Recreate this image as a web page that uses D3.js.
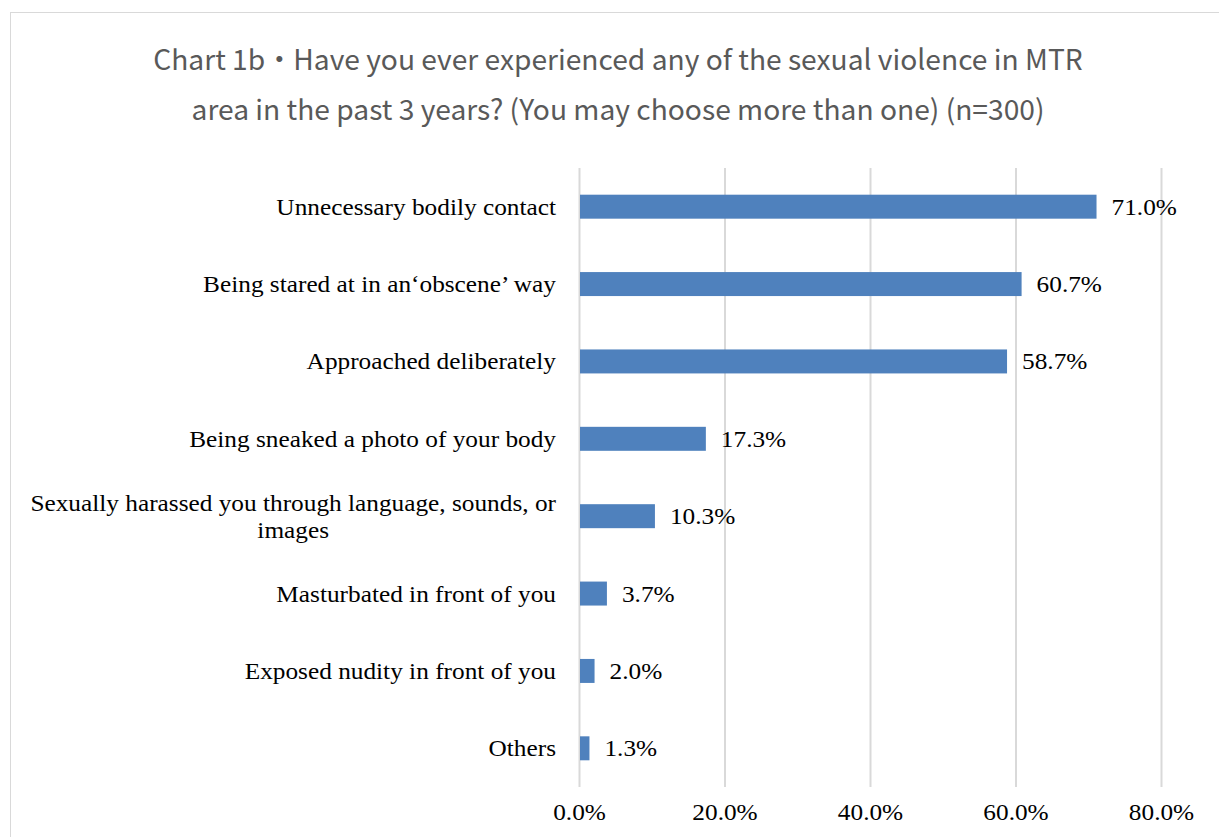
<!DOCTYPE html>
<html>
<head>
<meta charset="utf-8">
<script src="https://cdn.jsdelivr.net/npm/d3@7"></script>
<style>
  html, body { margin: 0; padding: 0; background: #fff; }
  svg { display: block; }
</style>
</head>
<body>
<svg id="chart" width="1219" height="837"></svg>
<script>
// Survey categories, top to bottom
const categories = [
  "Unnecessary bodily contact",
  "Being stared at in an‘obscene’ way",
  "Approached deliberately",
  "Being sneaked a photo of your body",
  "Sexually harassed you through language, sounds, or|images",
  "Masturbated in front of you",
  "Exposed nudity in front of you",
  "Others"
];
// Share of respondents (%)
const values = [71.0, 60.7, 58.7, 17.3, 10.3, 3.7, 2.0, 1.3];
const tickValues = [0, 20, 40, 60, 80];
const titleLines = [
  "Chart 1b・Have you ever experienced any of the sexual violence in MTR",
  "area in the past 3 years? (You may choose more than one) (n=300)"
];

const svg = d3.select("#chart");
const serif = "'Liberation Serif', 'DejaVu Serif', serif";
const serifSize = 23;
const stretch = 1.1;   // widen the serif face a little
const sans = "'Noto Sans CJK SC', 'Noto Sans', sans-serif";

// widen a text/tspan selection horizontally by the stretch factor
function widen(sel) {
  sel.each(function () {
    const w = this.getComputedTextLength();
    d3.select(this).attr("textLength", w * stretch).attr("lengthAdjust", "spacingAndGlyphs");
  });
}

// chart frame
svg.append("rect")
  .attr("x", 10.5).attr("y", 12.5)
  .attr("width", 1240).attr("height", 860)
  .attr("fill", "none").attr("stroke", "#d9d9d9").attr("stroke-width", 1);

// title
svg.append("g").selectAll("text").data(titleLines).join("text")
  .attr("x", 618).attr("y", (d, i) => 70 + i * 50)
  .attr("text-anchor", "middle")
  .attr("font-family", sans).attr("font-size", 28.2)
  .attr("fill", "#595959")
  .text(d => d);

const plot = { left: 579, right: 1161, top: 168, bottom: 787 };

const x = d3.scaleLinear().domain([0, 80]).range([plot.left, plot.right]);
const y = d3.scaleBand().domain(categories).range([plot.top, plot.bottom]).paddingInner(0.69).paddingOuter(0.345);

// vertical gridlines
svg.append("g").selectAll("line").data(tickValues).join("line")
  .attr("x1", d => x(d) + 0.5).attr("x2", d => x(d) + 0.5)
  .attr("y1", plot.top).attr("y2", plot.bottom)
  .attr("stroke", "#d9d9d9").attr("stroke-width", 2);

// bottom tick labels
const xAxis = d3.axisBottom(x).tickValues(tickValues).tickSize(0).tickPadding(0)
  .tickFormat(d => d.toFixed(1) + "%");
const ax = svg.append("g").attr("transform", `translate(0,${plot.bottom + 17})`).call(xAxis);
ax.select(".domain").remove();
ax.selectAll("text").attr("font-family", serif).attr("font-size", serifSize).attr("fill", "#000").call(widen);

// bars
svg.append("g").selectAll("rect").data(values).join("rect")
  .attr("x", plot.left + 1)
  .attr("y", (d, i) => y(categories[i]))
  .attr("width", d => x(d) - plot.left)
  .attr("height", y.bandwidth())
  .attr("fill", "#4f81bd");

// value labels
svg.append("g").selectAll("text").data(values).join("text")
  .attr("x", d => x(d) + 16)
  .attr("y", (d, i) => y(categories[i]) + y.bandwidth() / 2)
  .attr("dy", "0.35em")
  .attr("font-family", serif).attr("font-size", serifSize).attr("fill", "#000")
  .text(d => d.toFixed(1) + "%")
  .call(widen);

// category labels (multi-line labels are centered on their widest line)
const labelG = svg.append("g");
categories.forEach((c, i) => {
  const lines = c.split("|");
  const cy = y(c) + y.bandwidth() / 2;
  const t = labelG.append("text")
    .attr("font-family", serif).attr("font-size", serifSize).attr("fill", "#000");
  if (lines.length === 1) {
    t.attr("x", 556).attr("y", cy).attr("dy", "0.35em").attr("text-anchor", "end").text(c).call(widen);
  } else {
    const tmp = labelG.append("text").attr("font-family", serif).attr("font-size", serifSize).text(lines[0]);
    const w = tmp.node().getComputedTextLength() * stretch;
    tmp.remove();
    const center = 556 - w / 2;
    t.attr("text-anchor", "middle");
    lines.forEach((ln, j) => {
      t.append("tspan").attr("x", center)
        .attr("y", cy + (j - (lines.length - 1) / 2) * 27)
        .attr("dy", "0.35em").text(ln);
    });
    t.selectAll("tspan").call(widen);
  }
});
</script>
</body>
</html>
